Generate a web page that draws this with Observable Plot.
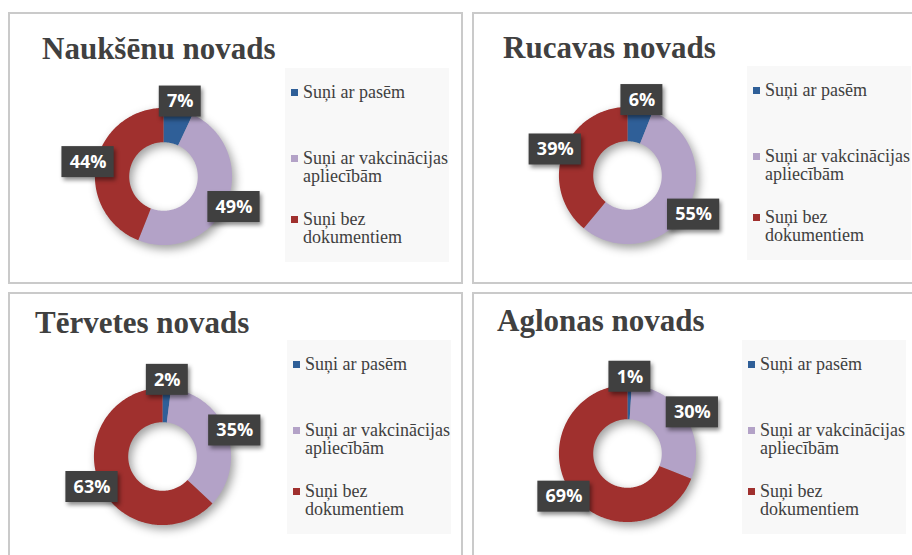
<!DOCTYPE html>
<html><head><meta charset="utf-8">
<script src="https://cdn.jsdelivr.net/npm/d3@7"></script>
<script src="https://cdn.jsdelivr.net/npm/@observablehq/plot@0.6"></script>
<style>
html,body{margin:0;padding:0;background:#fff;}
#root{position:relative;width:912px;height:555px;overflow:hidden;background:#fff;}
.panel{position:absolute;box-sizing:border-box;border:2px solid #cacaca;background:#fff;}
.title{position:absolute;font-family:"Liberation Serif","Times New Roman",serif;font-weight:bold;font-size:31px;color:#404040;white-space:nowrap;line-height:1;}
.legend{position:absolute;background:#f8f8f8;width:164px;height:194px;font-family:"Liberation Serif","Times New Roman",serif;font-size:18px;color:#404040;}
.item{position:absolute;left:6px;}
.sw{position:absolute;left:0;top:6px;width:7px;height:7px;}
.txt{position:absolute;left:12px;width:156px;line-height:18px;}
.chart{position:absolute;width:240px;height:240px;}
.chart svg{overflow:visible;}
.chart svg g[aria-label="line"]{filter:drop-shadow(3px 4px 5px rgba(0,0,0,0.38));}
.chart svg g[aria-label="rect"]{filter:drop-shadow(2px 3px 2px rgba(0,0,0,0.45));}
</style>
</head><body>
<div id="root"></div>
<script>
// ---- data ----
const districts = ["Naukšēnu novads", "Rucavas novads", "Tērvetes novads", "Aglonas novads"];
const categories = ["Suņi ar pasēm", "Suņi ar vakcinācijas apliecībām", "Suņi bez dokumentiem"];
const withPassports = [7, 6, 2, 1];
const withVaccination = [49, 55, 35, 30];
const withoutDocuments = [44, 39, 63, 69];
const colors = ["#2f5f98", "#b3a2c7", "#a0302e"];

// ---- layout (panel frames, not data) ----
const panels = [
  {left: 8,   top: 12,  w: 455, h: 272, titleX: 32, titleBase: 45, cx: 153, cy: 162, legX: 275, legY: 54},
  {left: 472, top: 12,  w: 460, h: 272, titleX: 29, titleBase: 44, cx: 153, cy: 161, legX: 273, legY: 52},
  {left: 8,   top: 292, w: 455, h: 280, titleX: 25, titleBase: 39, cx: 152, cy: 162, legX: 277, legY: 46},
  {left: 472, top: 292, w: 460, h: 280, titleX: 23, titleBase: 37, cx: 153, cy: 159, legX: 268, legY: 46}
];

const SIZE = 240, EXT = 1.75, R = 1, r = 0.5, LABEL_R = 1.12;
const pxPerUnit = SIZE / (2 * EXT);
const root = document.getElementById("root");

function buildGeometry(vals) {
  const total = d3.sum(vals);
  let acc = 0;
  const pts = [], labels = [];
  vals.forEach((v, i) => {
    const cat = categories[i];
    const a0 = acc / total * 2 * Math.PI; acc += v;
    const a1 = acc / total * 2 * Math.PI;
    const n = Math.max(2, Math.ceil((a1 - a0) / (Math.PI / 180)));
    for (let k = 0; k <= n; k++) { const a = a0 + (a1 - a0) * k / n; pts.push({cat, x: R * Math.sin(a), y: R * Math.cos(a)}); }
    for (let k = n; k >= 0; k--) { const a = a0 + (a1 - a0) * k / n; pts.push({cat, x: r * Math.sin(a), y: r * Math.cos(a)}); }
    const am = (a0 + a1) / 2;
    const text = v + "%";
    const digits = String(v).length;
    const wPx = 16 + (0.572 * digits + 0.87) * 18;
    const hPx = 31;
    const x = LABEL_R * R * Math.sin(am), y = LABEL_R * R * Math.cos(am);
    labels.push({text, x, y,
      x1: x - wPx / 2 / pxPerUnit, x2: x + wPx / 2 / pxPerUnit,
      y1: y - hPx / 2 / pxPerUnit, y2: y + hPx / 2 / pxPerUnit});
  });
  return {pts, labels};
}

districts.forEach((name, di) => {
  const L = panels[di];
  const panel = document.createElement("div");
  panel.className = "panel";
  Object.assign(panel.style, {left: L.left + "px", top: L.top + "px", width: L.w + "px", height: L.h + "px"});
  root.appendChild(panel);

  const title = document.createElement("div");
  title.className = "title";
  title.textContent = name;
  Object.assign(title.style, {left: L.titleX + "px", top: (L.titleBase - 26) + "px"});
  panel.appendChild(title);

  const vals = [withPassports[di], withVaccination[di], withoutDocuments[di]];
  const {pts, labels} = buildGeometry(vals);

  const plot = Plot.plot({
    width: SIZE, height: SIZE, margin: 0,
    x: {domain: [-EXT, EXT], axis: null},
    y: {domain: [-EXT, EXT], axis: null},
    color: {domain: categories, range: colors},
    style: {background: "transparent", overflow: "visible"},
    marks: [
      Plot.line(pts, {x: "x", y: "y", z: "cat", fill: "cat", stroke: null, curve: "linear-closed"}),
      Plot.rect(labels, {x1: "x1", x2: "x2", y1: "y1", y2: "y2", fill: "#404040"}),
      Plot.text(labels, {x: "x", y: "y", text: "text", fill: "white", fontSize: 18, fontWeight: "bold", fontFamily: "'Open Sans', sans-serif"})
    ]
  });
  const chart = document.createElement("div");
  chart.className = "chart";
  Object.assign(chart.style, {left: (L.cx - SIZE / 2) + "px", top: (L.cy - SIZE / 2) + "px"});
  chart.appendChild(plot);
  panel.appendChild(chart);

  const colorScale = plot.scale("color");
  const legend = document.createElement("div");
  legend.className = "legend";
  Object.assign(legend.style, {left: L.legX + "px", top: L.legY + "px"});
  const itemTops = [15, 81, 142];
  categories.forEach((c, i) => {
    const it = document.createElement("div");
    it.className = "item";
    it.style.top = itemTops[i] + "px";
    const sw = document.createElement("div");
    sw.className = "sw";
    sw.style.background = colorScale.apply(c);
    const tx = document.createElement("div");
    tx.className = "txt";
    tx.textContent = c;
    it.appendChild(sw); it.appendChild(tx);
    legend.appendChild(it);
  });
  panel.appendChild(legend);
});
</script>
</body></html>
